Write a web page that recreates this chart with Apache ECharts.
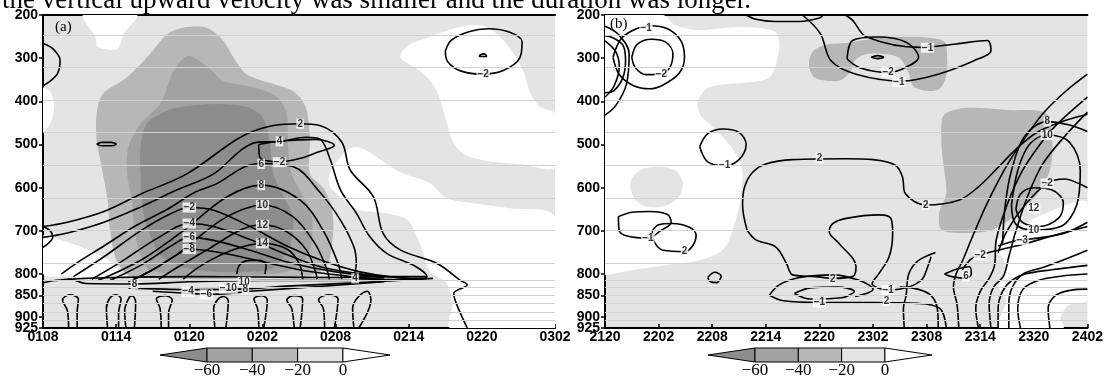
<!DOCTYPE html>
<html>
<head>
<meta charset="utf-8">
<script src="https://cdn.jsdelivr.net/npm/echarts@6/dist/echarts.min.js"></script>
<style>
html, body { margin: 0; padding: 0; background: #fff; }
#chart { width: 1106px; height: 383px; }
</style>
</head>
<body>
<div id="chart"></div>
<script>
// shading levels: < -60, -60..-40, -40..-20, -20..0, > 0
var shadeColors = ['#8c8c8c', '#a2a2a2', '#b7b7b7', '#e4e4e4', '#ffffff'];
var barTicks = ['\u221260', '\u221240', '\u221220', '0'];
var yTicks = [200, 300, 400, 500, 600, 700, 800, 850, 900];
var yBottomTick = [925];
var xLabelsA = ['0108', '0114', '0120', '0202', '0208', '0214', '0220', '0302'];
var xLabelsB = ['2120', '2202', '2208', '2214', '2220', '2302', '2308', '2314', '2320', '2402'];
var faintLevels = [248, 322, 397, 472, 548, 624, 699, 775, 814, 830, 849, 868, 888, 908];
var topText = 'the vertical upward velocity was smaller and the duration was longer.';

// ---- panel (a) shading, [hour, hPa] ----
var aWhite1 = [[3.3,200],[4.3,251],[4.5,274],[6.1,279],[6.6,244],[7.7,200]];
var aWhite2 = [[0,369],[0.6,378],[0.9,408],[0.7,443],[0.25,466],[0,471]];
var aWhite3 = [[29.3,297],[29.9,272],[31.7,251],[34.2,228],[36.1,225],[37.5,251],[38.6,290],[39.4,330],[40.0,383],[40.8,413],[42,429],[42,552],[39.1,545],[36.4,538],[34.5,522],[33.6,492],[33.1,446],[32.3,376],[31.5,344],[30.4,320]];
var aWhite4 = [[23.5,568],[23.8,552],[24.8,517],[25.6,506],[26.6,515],[28.2,545],[29.3,564],[31.7,589],[33.1,624],[35.0,635],[38.1,647],[42,668],[42,925],[33.4,925],[33.6,867],[33.1,821],[31.7,791],[30.9,728],[29.9,675],[28.2,659],[26.0,652],[24.4,622],[23.5,594]];
var aWhite5 = [[0,712],[1.5,722],[3.5,742],[5.5,770],[6.2,795],[5,808],[2.5,806],[0,800]];
var aMed = [[4.4,429],[4.9,383],[6.9,344],[8.8,290],[10.2,244],[11.8,228],[13.5,230],[14.8,260],[15.6,297],[16.7,337],[18.9,360],[20.5,376],[21.3,399],[21.7,429],[21.9,492],[21.9,568],[23.1,605],[23.8,668],[23.5,768],[22.7,795],[21.1,807],[7.4,807],[6.1,772],[5.5,698],[5.3,629],[4.7,536],[4.4,490]];
var aDark = [[6.9,568],[7.0,506],[8.0,452],[9.6,406],[10.2,367],[10.7,330],[11.9,295],[13.5,320],[14.8,353],[17.2,367],[19.2,390],[20.0,429],[20.1,506],[20.4,568],[21.5,629],[22.1,675],[21.9,744],[21.1,779],[19.4,798],[12.9,805],[8.8,791],[8.0,756],[7.5,698],[7.3,629]];
var aCore = [[8.0,568],[8.0,506],[8.5,452],[10.2,422],[11.8,411],[14.5,406],[16.7,413],[18.0,436],[18.6,492],[18.9,568],[19.9,629],[20.5,668],[20.3,733],[19.4,772],[18.4,791],[14.5,795],[11.5,784],[9.6,756],[8.8,710],[8.2,652]];

// ---- panel (b) shading ----
var bWhite1 = [[0,200],[6.5,200],[7.8,223],[10.6,235],[15.1,228],[19.0,239],[19.5,274],[18.7,337],[17.3,353],[11.7,367],[10.4,399],[10.6,429],[12.0,459],[13.6,492],[15.1,538],[15.4,568],[15.1,635],[14.3,698],[13.2,744],[10.6,768],[6.9,779],[3.1,791],[0.2,802],[0,802]];
var bWhite2 = [[43.7,728],[46.3,691],[49.3,659],[54,635],[54,860],[51.9,872],[51.0,902],[51.3,925],[44.1,925],[44.9,860],[44.1,830],[44.9,784]];
var bLight = [[2.8,596],[3.3,570],[4.5,555],[6.5,552],[8.0,562],[8.7,590],[8.3,620],[7,640],[5,645],[3.5,630]];
var bMedTop = [[22.9,300],[23.5,280],[25,268],[27,265],[29,258],[31,252],[33.5,251],[36,252],[38,262],[38.3,300],[38.2,340],[37.5,370],[36,376],[34.5,365],[34,335],[33,300],[31,290],[29,292],[28,305],[27.5,330],[26.5,350],[25,353],[23.5,345],[22.9,325]];
var bMedRight = [[38.2,427],[40.4,415],[45.2,420],[49.3,427],[50.0,473],[49.9,552],[48.5,612],[46.3,659],[43.3,698],[40.7,705],[37.7,698],[37.4,659],[38.2,612],[37.7,513],[37.7,443]];

// ---- panel (a) contours ----
var aEdge1 = [[0,266],[0.8,278],[1.4,305],[1.2,335],[0.5,355],[0,364]];
var aEdge2 = [[0,690],[0.6,700],[0.8,715],[0.4,730],[0,738]];
var aSmall = [[4.4,499],[4.8,495],[5.6,495],[6.0,499],[5.6,503],[4.8,503],[4.4,499]];
var aTopRight = [[33.0,284],[33.5,258],[35,238],[36.5,232],[38.3,240],[39.3,262],[39.1,300],[37.8,328],[36.1,337],[34.3,330],[33.2,308],[33.0,284]];
var aTopDot = [[35.8,293],[36.2,290],[36.4,296],[35.8,296],[35.8,293]];
var aNeg2Loop = [[17.7,500],[17.8,530],[19.4,540],[21.1,532],[22.5,518],[23.9,502],[22.4,488],[19.5,492],[17.7,500]];
var aC2 = [[0,690],[2,680],[5,655],[8,615],[11.8,568],[16.2,483],[18.9,456],[21.1,452],[22.7,456],[24.5,494],[25.2,559],[27.1,621],[27.9,706],[29.3,744],[32.3,775],[34.2,814],[34.8,825],[33.7,845],[33.9,868],[34.8,925]];
var aC4 = [[0,715],[2,705],[5,680],[8,645],[11,605],[14,568],[16.2,514],[17.5,495],[19.4,493],[21.6,483],[22.7,487],[23.5,530],[24.4,605],[25.7,659],[26.8,713],[28.2,752],[30.6,783],[31.5,806],[30.4,814],[25.5,810]];
var aC6 = [[1.5,800],[3,770],[5,735],[7.5,690],[10.2,650],[12.5,610],[14.3,590],[16.5,552],[17.9,544],[20.5,551],[22.7,610],[24.4,675],[25.5,737],[25.7,775],[25.5,806]];
var aC8 = [[4.5,815],[6.5,790],[8.5,760],[11.5,700],[15.1,621],[17.9,594],[21.1,629],[23,700],[24.2,775],[24.5,812]];
var aC10 = [[7.5,812],[9,790],[11,755],[12.3,725],[15.1,667],[18,640],[20.5,667],[22.3,729],[23.2,783],[23.5,812]];
var aC12 = [[9.5,812],[11,785],[13.7,740],[16.2,698],[18,686],[20,702],[21.6,744],[22.3,790],[22.5,812]];
var aC14 = [[11.5,812],[13,780],[15.6,744],[18,729],[20,742],[21,775],[21.3,812]];
var aC16 = [[15.9,800],[16.1,780],[16.8,769],[17.8,768],[18.3,780],[18.2,800]];
var aN2 = [[2.5,806],[5,760],[8,700],[10.5,660],[12,646],[14,652],[17,690],[20,735],[23,770],[26,795],[29,808],[31.5,810]];
var aN4 = [[4,812],[6.5,770],[9.5,715],[12,683],[14,690],[17,720],[20,755],[23,785],[27,803],[30,810]];
var aN6 = [[5.5,815],[8,780],[10.5,735],[12,715],[14,722],[17,745],[20,772],[24,795],[28,808]];
var aN8 = [[7,818],[9,790],[11,755],[12,742],[14,748],[17,765],[21,790],[25,805],[28,812]];
var aB1 = [[2.0,812],[6,808],[12,806],[18,807],[24,808],[28,806],[31.5,806]];
var aB2 = [[0,820],[1,815],[2.2,812],[3.5,822],[7.5,823],[12,818],[18,815],[24,815],[30,812]];
var aB3 = [[7,832],[12,836],[16,835],[20,828],[26,820],[32,810]];
var aB4 = [[9,840],[12,845],[14,847],[17,840],[22,830],[28,818]];
var aF1 = [[2.1,925],[2.0,885],[1.6,860],[2.2,848],[2.9,858],[2.8,890],[2.8,925]];
var aF2 = [[5.3,925],[5.2,880],[5.5,855],[6.0,848],[6.4,858],[6.2,890],[6.2,925]];
var aF3 = [[6.8,925],[6.7,885],[7.0,858],[7.3,850],[7.6,865],[7.5,925]];
var aF4 = [[9.7,925],[9.6,880],[9.3,858],[10.0,850],[10.6,860],[10.3,890],[10.3,925]];
var aF5 = [[14.1,925],[14.0,880],[14.3,860],[14.8,852],[15.2,862],[15.0,925]];
var aF6 = [[17.7,925],[17.6,880],[17.3,858],[17.9,850],[18.4,860],[18.1,925]];
var aF7 = [[20.6,925],[20.4,880],[20.0,860],[20.6,850],[21.3,858],[21.1,925]];
var aF8 = [[23.1,925],[23.0,880],[22.6,860],[23.4,848],[24.2,858],[23.9,925]];
var aF9 = [[25.5,925],[25.4,880],[25.8,855],[26.6,840],[26.9,860],[25.9,925]];
var aLabels = [['2',21.1,452],['4',19.4,493],['6',17.9,545],['\u22122',19.4,541],['8',17.9,594],['10',18.0,640],['12',18.0,686],['14',18.0,729],
  ['\u22122',12.0,646],['\u22124',12.0,683],['\u22126',12.0,715],['\u22128',12.0,742],['8',7.5,823],['10',16.5,818],['\u221210',15.2,834],['8',16.6,836],
  ['\u22124',11.9,841],['\u22126',13.4,847],['4',25.6,810],['\u22122',36.1,337]];

// ---- panel (b) contours ----
var bEdge1 = [[0,226],[1.5,245],[2.7,290],[2.4,360],[1.2,410],[0,432]];
var bEdge2 = [[0,260],[1.2,285],[1.6,320],[1.0,365],[0,390]];
var bEdge3 = [[0,248],[0.8,252],[2.0,270],[2.3,305],[2.0,345],[1.0,375],[0,380]];
var bM1 = [[0.9,298],[1.8,255],[3.5,232],[5,225],[7,232],[8.5,260],[8.9,298],[8.3,335],[6.5,362],[5,371],[3.2,364],[1.6,338],[0.9,298]];
var bM2 = [[3.0,298],[3.6,268],[5.2,256],[6.8,263],[7.6,290],[7.3,320],[6.3,337],[4.6,338],[3.4,322],[3.0,298]];
var bM3 = [[10.6,505],[11.5,475],[13.2,464],[15,472],[15.8,500],[15,535],[13.4,549],[11.5,540],[10.6,505]];
var bTopU = [[15.8,200],[16.9,210],[19,215],[21.8,215],[24,207],[24.4,200]];
var bU1 = [[22.1,200],[24.1,243],[25.3,306],[28.1,337],[33.3,353],[37.3,337],[41.3,306],[43.2,282],[42.8,259],[39.3,267],[35.3,275],[29.3,251],[27.7,212],[26.9,200]];
var bU2 = [[27.1,302],[27.7,259],[30.5,251],[33.7,263],[35.1,298],[33.3,325],[31.7,333],[28.5,322],[27.1,302]];
var bTiny = [[29.8,298],[30.5,294],[31.2,298],[30.5,301],[29.8,298]];
var bC2 = [[15.9,698],[15.4,640],[15.6,600],[16.5,565],[18,545],[21,535],[27,533],[30,535],[32.5,548],[33.3,575],[33.6,613],[35.9,640],[39.6,629],[41.8,598],[44.1,551],[45.9,513],[48.2,474],[51,448],[54,430]];
var bC2low = [[15.9,698],[16.9,721],[19.1,737],[20.3,775],[21.0,802],[23.6,806],[25.5,810],[27.7,806],[28.1,783],[26.2,729],[25.1,702],[25.5,683],[27,671],[30.7,663],[32,671],[32.2,706],[31.8,760],[30.7,798],[29.9,822],[31.7,837],[34,830],[35.5,812],[36,790],[36.5,760]];
var bLoopA = [[18.4,849],[19.5,825],[21.8,808],[25.5,802],[28.5,815],[30,835],[28,852]];
var bLine1 = [[18.4,849],[20,862],[24,866],[30,866],[35,868],[37.5,880],[38.2,925]];
var bLoopB = [[21.2,845],[23,832],[26,830],[27.9,840],[26.5,855],[23,858],[21.2,845]];
var bV1 = [[33.5,925],[33.4,880],[33.7,850],[34.0,800],[35,770],[37,750]];
var bR1 = [[37.3,925],[37.2,880],[36.5,850],[35,835],[33,830]];
var bR2 = [[39.6,925],[39.4,870],[39.0,830],[39.3,800],[40,770],[41,720],[42.8,635],[45.2,541],[47.5,470],[49.2,424],[51.6,376],[54,337]];
var bR3 = [[41.8,925],[41.5,880],[42,840],[43,810],[43.6,780],[43.8,720],[45,640],[46.6,565],[48.5,505],[50.5,455],[54,390]];
var bR4 = [[43.2,925],[43,870],[43.5,830],[44.6,805],[45.2,760],[46,700],[47.3,620],[49,545],[51.5,480],[54,425]];
var bR5 = [[44.0,925],[44,880],[44.5,840],[45.5,815],[47,800],[50,790],[54,780]];
var bR6 = [[45.2,925],[45.2,870],[45.6,830],[46.8,800],[49,785],[51,770],[54,745]];
var bR7 = [[46.5,925],[46.2,880],[46.8,835],[48.5,815],[51,805],[54,800]];
var bR8 = [[49.8,925],[49.6,880],[50.4,850],[52,838],[54,835]];
var bN2 = [[40,790],[41,765],[42,756],[44,745],[47,730],[50,712],[54,690]];
var bN3 = [[44,735],[45.5,725],[46.7,721],[49,715],[51.5,705],[54,680]];
var bP12 = [[46,650],[46.5,615],[48,600],[50,605],[51.3,635],[50.8,670],[48.5,690],[46.7,680],[46,650]];
var bP10 = [[45.5,640],[46.2,560],[47.5,500],[49.5,478],[52,495],[53.2,560],[52.8,640],[51,690],[48,698],[46,685],[45.5,640]];
var bP8 = [[44.5,730],[44.8,640],[45.5,560],[47,480],[49.5,447],[52,455],[54,470]];
var bNeg2R = [[44,750],[45,700],[47,640],[49.5,590],[51.5,580],[53,590],[54,600]];
var bSmallR = [[38,800],[39.5,788],[40.8,783],[41,800],[40.4,810],[38.8,806],[38,800]];
var bL1 = [[1.5,667],[3,657],[5,655],[7,662],[7.4,680],[6.2,700],[4.8,717],[2.5,712],[1.6,700],[1.5,667]];
var bL2 = [[5.3,700],[6,686],[7.5,683],[9.5,692],[10.2,710],[9.8,735],[8.9,748],[6.5,745],[5.5,725],[5.3,700]];
var bL3 = [[11.5,808],[12.3,796],[13,805],[12.5,820],[11.8,818],[11.5,808]];
var bLabels = [['\u22121',4.6,230],['\u22122',6.3,337],['\u22121',13.4,549],['2',24.0,532],['\u22121',36.1,276],['\u22122',31.7,333],['\u22121',32.9,355],
  ['8',49.5,447],['10',49.5,478],['\u22122',49.5,590],['12',48,648],['10',48,698],['\u22123',46.7,721],['\u22122',42,756],['6',40.4,806],['2',35.9,640],
  ['\u22121',4.8,717],['2',8.9,748],['2',25.5,812],['\u22121',24.0,866],['\u22121',31.7,837],['2',31.5,863]];

var aShades = [[aWhite1,4],[aWhite2,4],[aWhite3,4],[aWhite4,4],[aWhite5,4],[aMed,2],[aDark,1],[aCore,0]];
var bShades = [[bWhite1,4],[bWhite2,4],[bLight,3],[bMedTop,2],[bMedRight,2]];
var aLines = [aEdge1,aEdge2,aSmall,aTopRight,aTopDot,aNeg2Loop,aC2,aC4,aC6,aC8,aC10,aC12,aC14,aC16,aN2,aN4,aN6,aN8,aB1,aB2,aB3,aB4,aF1,aF2,aF3,aF4,aF5,aF6,aF7,aF8,aF9];
var bLines = [bEdge1,bEdge2,bEdge3,bM1,bM2,bM3,bTopU,bU1,bU2,bTiny,bC2,bC2low,bLoopA,bLine1,bLoopB,bV1,bR1,bR2,bR3,bR4,bR5,bR6,bR7,bR8,bN2,bN3,bP12,bP10,bP8,bNeg2R,bSmallR,bL1,bL2,bL3];

var chart = echarts.init(document.getElementById('chart'));

function shadeSeries(idx, shades) {
    return {
        type: 'custom',
        xAxisIndex: idx, yAxisIndex: idx,
        clip: true, silent: true, z: 1,
        data: shades.map(function (s, i) { return [i]; }),
        renderItem: function (params, api) {
            var s = shades[params.dataIndex];
            return {
                type: 'polygon',
                shape: { points: s[0].map(function (q) { return api.coord(q); }), smooth: 0.3 },
                style: { fill: shadeColors[s[1]] }
            };
        },
        markLine: {
            silent: true, symbol: 'none', label: { show: false }, animation: false,
            lineStyle: { color: '#d2d2d2', width: 1, type: 'solid' },
            data: faintLevels.map(function (v) { return { yAxis: v }; })
        }
    };
}

function lineSeries(idx, arr) {
    return {
        type: 'line', xAxisIndex: idx, yAxisIndex: idx,
        data: arr, smooth: 0.35, symbol: 'none', silent: true, z: 3,
        lineStyle: { color: '#000', width: 1.6 }
    };
}

function labelSeries(idx, labels) {
    return {
        type: 'scatter', xAxisIndex: idx, yAxisIndex: idx, z: 5, silent: true,
        symbolSize: 0,
        data: labels.map(function (l) { return { name: l[0], value: [l[1], l[2]] }; }),
        label: {
            show: true, position: 'inside', formatter: '{b}',
            color: '#000', fontSize: 10, fontWeight: 'bold', fontFamily: 'Liberation Sans',
            backgroundColor: '#fff', padding: [0, 1], lineHeight: 10
        }
    };
}

function xAxisFor(idx, max, labels) {
    return {
        gridIndex: idx, type: 'value', min: 0, max: max, interval: 6,
        axisLine: { lineStyle: { color: '#000', width: 2 } },
        axisTick: { inside: true, length: 4, lineStyle: { color: '#000', width: 1.5 } },
        axisLabel: {
            color: '#000', fontSize: 14, fontWeight: 'bold', fontFamily: 'Liberation Sans', margin: 2,
            formatter: function (v) { return labels[Math.round(v / 6)]; }
        },
        splitLine: { show: false }
    };
}

function yAxisFor(idx, ticks, showLine) {
    return {
        gridIndex: idx, type: 'value', inverse: true, min: 200, max: 925, position: 'left',
        axisLine: { show: showLine, lineStyle: { color: '#000', width: 2 } },
        axisTick: { length: 4, customValues: ticks, lineStyle: { color: '#000', width: 1.5 } },
        axisLabel: {
            customValues: ticks, hideOverlap: false,
            color: '#000', fontSize: 14, fontWeight: 'bold',
            fontFamily: 'Liberation Sans', margin: 5
        },
        splitLine: { show: false }
    };
}

function frameX(idx, max) {
    return { gridIndex: idx, type: 'value', position: 'top', min: 0, max: max,
        axisLine: { lineStyle: { color: '#000', width: 2 } }, axisTick: { show: false },
        axisLabel: { show: false }, splitLine: { show: false } };
}
function frameY(idx) {
    return { gridIndex: idx, type: 'value', position: 'right', min: 200, max: 925,
        axisLine: { lineStyle: { color: '#000', width: 2 } }, axisTick: { show: false },
        axisLabel: { show: false }, splitLine: { show: false } };
}

var series = [shadeSeries(0, aShades), shadeSeries(1, bShades)];
aLines.forEach(function (a) { series.push(lineSeries(0, a)); });
bLines.forEach(function (b) { series.push(lineSeries(1, b)); });
series.push(labelSeries(0, aLabels));
series.push(labelSeries(1, bLabels));

// colour bar under each panel
function colorBar(x0, w) {
    var cy = 355, h = 14, els = [];
    els.push({ type: 'polygon', shape: { points: [[x0 - 47, cy], [x0, cy - h / 2], [x0, cy + h / 2]] },
        style: { fill: shadeColors[0], stroke: '#000', lineWidth: 1 } });
    for (var i = 0; i < 3; i++) {
        els.push({ type: 'rect', shape: { x: x0 + i * w, y: cy - h / 2, width: w, height: h },
            style: { fill: shadeColors[i + 1], stroke: '#000', lineWidth: 1 } });
    }
    els.push({ type: 'polygon', shape: { points: [[x0 + 3 * w, cy - h / 2], [x0 + 3 * w + 47, cy], [x0 + 3 * w, cy + h / 2]] },
        style: { fill: shadeColors[4], stroke: '#000', lineWidth: 1 } });
    barTicks.forEach(function (t, i) {
        els.push({ type: 'text', style: { text: t, x: x0 + i * w, y: 371, align: 'center', verticalAlign: 'middle',
            font: '17px "Liberation Serif"', fill: '#000' } });
    });
    return els;
}

var graphics = [
    { type: 'text', style: { text: topText, x: 2, y: 1, verticalAlign: 'middle', font: '27px "Liberation Serif"', fill: '#000' } },
    { type: 'text', style: { text: '(a)', x: 55, y: 27, verticalAlign: 'middle', font: '15px "Liberation Serif"', fill: '#000' }, z: 100 },
    { type: 'text', style: { text: '(b)', x: 610, y: 24, verticalAlign: 'middle', font: '15px "Liberation Serif"', fill: '#000' }, z: 100 }
].concat(colorBar(207, 45.3)).concat(colorBar(755, 43.3));

chart.setOption({
    animation: false,
    backgroundColor: '#fff',
    grid: [
        { left: 43, width: 512, top: 15, height: 313, show: true, backgroundColor: shadeColors[3], borderWidth: 0 },
        { left: 605, width: 484, top: 15, height: 313, show: true, backgroundColor: shadeColors[3], borderWidth: 0 }
    ],
    xAxis: [xAxisFor(0, 42, xLabelsA), xAxisFor(1, 54, xLabelsB), frameX(0, 42), frameX(1, 54)],
    yAxis: [yAxisFor(0, yTicks, true), yAxisFor(1, yTicks, true), frameY(0), frameY(1),
        yAxisFor(0, yBottomTick, false), yAxisFor(1, yBottomTick, false)],
    graphic: graphics,
    series: series
});
</script>
</body>
</html>
